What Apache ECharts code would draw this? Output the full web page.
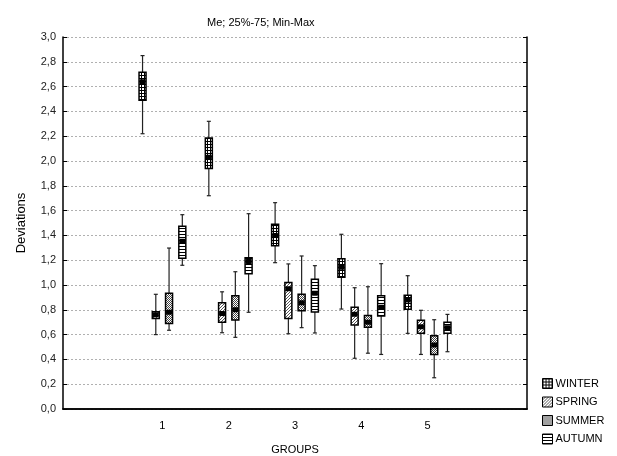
<!DOCTYPE html>
<html>
<head>
<meta charset="utf-8">
<script src="https://cdn.jsdelivr.net/npm/echarts@6/dist/echarts.min.js"></script>
<style>html,body{margin:0;padding:0;background:#fff;}#c{width:617px;height:456px;}</style>
</head>
<body>
<div id="c"></div>
<script>
// Categories (slot 0 and 6 are empty padding slots on the axis)
var xCats = ['', '1', '2', '3', '4', '5', ''];
var groups = ['1', '2', '3', '4', '5'];
var seasons = ['WINTER', 'SPRING', 'SUMMER', 'AUTUMN'];
var yTicks = [0, 0.2, 0.4, 0.6, 0.8, 1.0, 1.2, 1.4, 1.6, 1.8, 2.0, 2.2, 2.4, 2.6, 2.8, 3.0];

// [min, q25, median, q75, max] per group
var winter = [
  [2.22, 2.49, 2.64, 2.715, 2.85],
  [1.72, 1.94, 2.03, 2.185, 2.32],
  [1.18, 1.317, 1.40, 1.49, 1.664],
  [0.806, 1.062, 1.143, 1.212, 1.409],
  [0.61, 0.804, 0.88, 0.917, 1.075]
];
var spring = [
  [0.60, 0.73, 0.76, 0.785, 0.925],
  [0.615, 0.70, 0.77, 0.857, 0.945],
  [0.607, 0.73, 0.97, 1.02, 1.17],
  [0.409, 0.677, 0.764, 0.82, 0.978],
  [0.44, 0.61, 0.664, 0.715, 0.796]
];
var summer = [
  [0.635, 0.69, 0.78, 0.933, 1.298],
  [0.578, 0.718, 0.80, 0.914, 1.107],
  [0.656, 0.793, 0.857, 0.925, 1.234],
  [0.45, 0.659, 0.70, 0.755, 0.986],
  [0.252, 0.44, 0.516, 0.59, 0.72]
];
var autumn = [
  [1.159, 1.215, 1.352, 1.473, 1.567],
  [0.78, 1.09, 1.19, 1.22, 1.575],
  [0.613, 0.782, 0.933, 1.046, 1.156],
  [0.44, 0.75, 0.82, 0.914, 1.172],
  [0.462, 0.61, 0.656, 0.70, 0.763]
];
var seasonData = [winter, spring, summer, autumn];
var offsets = [-0.3, -0.1, 0.1, 0.3];

function makePattern(kind) {
  var c = document.createElement('canvas');
  var ctx;
  if (kind === 'grid') {
    c.width = 3; c.height = 3; ctx = c.getContext('2d');
    ctx.fillStyle = '#fff'; ctx.fillRect(0, 0, 3, 3);
    ctx.fillStyle = '#000'; ctx.fillRect(0, 0, 3, 1); ctx.fillRect(0, 0, 1, 3);
  } else if (kind === 'diag') {
    c.width = 3; c.height = 3; ctx = c.getContext('2d');
    ctx.fillStyle = '#fff'; ctx.fillRect(0, 0, 3, 3);
    ctx.fillStyle = '#555'; ctx.fillRect(0, 2, 1, 1); ctx.fillRect(1, 1, 1, 1); ctx.fillRect(2, 0, 1, 1);
  } else if (kind === 'dots') {
    c.width = 2; c.height = 2; ctx = c.getContext('2d');
    ctx.fillStyle = '#fff'; ctx.fillRect(0, 0, 2, 2);
    ctx.fillStyle = '#444'; ctx.fillRect(0, 0, 1, 1); ctx.fillRect(1, 1, 1, 1);
  } else {
    c.width = 3; c.height = 3; ctx = c.getContext('2d');
    ctx.fillStyle = '#fff'; ctx.fillRect(0, 0, 3, 3);
    ctx.fillStyle = '#000'; ctx.fillRect(0, 0, 3, 1);
  }
  return { image: c, repeat: 'repeat' };
}
var patterns = [makePattern('grid'), makePattern('diag'), makePattern('dots'), makePattern('hlines')];

function fmt(v) { return v.toFixed(1).replace('.', ','); }

function buildSeries(si) {
  var data = seasonData[si].map(function (d, gi) {
    return [gi + 1].concat(d);
  });
  var off = offsets[si];
  var fill = patterns[si];
  return {
    name: seasons[si],
    type: 'custom',
    itemStyle: { color: fill, borderColor: '#000', borderWidth: 1 },
    encode: { x: 0, y: [1, 2, 3, 4, 5] },
    data: data,
    renderItem: function (params, api) {
      var band = api.size([1, 0])[0];
      var idx = api.value(0);
      var x = api.coord([idx, 0])[0] + off * band;
      var yMin = api.coord([idx, api.value(1)])[1];
      var yQ1 = api.coord([idx, api.value(2)])[1];
      var yMed = api.coord([idx, api.value(3)])[1];
      var yQ3 = api.coord([idx, api.value(4)])[1];
      var yMax = api.coord([idx, api.value(5)])[1];
      var lineStyle = { stroke: '#222', lineWidth: 1.2 };
      var bw = 7, cw = 4;
      return {
        type: 'group',
        children: [
          { type: 'line', shape: { x1: x, y1: yMax, x2: x, y2: yQ3 }, style: lineStyle },
          { type: 'line', shape: { x1: x, y1: yQ1, x2: x, y2: yMin }, style: lineStyle },
          { type: 'line', shape: { x1: x - cw / 2, y1: yMax, x2: x + cw / 2, y2: yMax }, style: lineStyle },
          { type: 'line', shape: { x1: x - cw / 2, y1: yMin, x2: x + cw / 2, y2: yMin }, style: lineStyle },
          { type: 'rect', shape: { x: x - bw / 2, y: yQ3, width: bw, height: yQ1 - yQ3 },
            style: { fill: fill, stroke: '#000', lineWidth: 1.5 } },
          { type: 'rect', shape: { x: x - 3, y: yMed - 2.5, width: 6, height: 5, r: 1 },
            style: { fill: '#000' } }
        ]
      };
    }
  };
}

var chart = echarts.init(document.getElementById('c'), null, { renderer: 'canvas' });
chart.setOption({
  backgroundColor: '#fff',
  animation: false,
  title: {
    text: 'Me; 25%-75; Min-Max',
    left: 202, top: 12,
    textStyle: { fontSize: 11, fontWeight: 'normal', color: '#000', fontFamily: 'Liberation Sans, Arial, sans-serif' }
  },
  legend: {
    orient: 'vertical',
    left: 537, top: 373,
    itemWidth: 10, itemHeight: 10, itemGap: 7.5,
    icon: 'rect',
    itemStyle: { borderColor: '#000', borderWidth: 1 },
    textStyle: { fontSize: 11, color: '#000', padding: [0, 0, 0, -2], fontFamily: 'Liberation Sans, Arial, sans-serif' },
    data: seasons
  },
  grid: { left: 63, right: 90, top: 37, bottom: 47, containLabel: false, outerBoundsMode: 'none' },
  xAxis: [{
    type: 'category',
    data: xCats,
    boundaryGap: true,
    name: 'GROUPS',
    nameLocation: 'middle',
    nameGap: 35,
    nameTextStyle: { fontSize: 11, color: '#000', fontFamily: 'Liberation Sans, Arial, sans-serif' },
    axisLine: { lineStyle: { color: '#000', width: 1.5 } },
    axisTick: { inside: true, length: 4, alignWithLabel: true, interval: 0, lineStyle: { color: '#000' } },
    axisLabel: { interval: 0, margin: 11, fontSize: 11, color: '#000', fontFamily: 'Liberation Sans, Arial, sans-serif' },
    splitLine: { show: false }
  }, {
    type: 'category',
    data: xCats,
    position: 'top',
    boundaryGap: true,
    axisLine: { lineStyle: { color: '#000', width: 1.5 } },
    axisTick: { inside: true, length: 4, alignWithLabel: true, interval: 0, lineStyle: { color: '#000' } },
    axisLabel: { show: false },
    splitLine: { show: false }
  }],
  yAxis: [{
    type: 'value',
    min: 0, max: 3, interval: 0.2,
    name: 'Deviations',
    nameLocation: 'middle',
    nameGap: 35,
    nameRotate: 90,
    nameTextStyle: { fontSize: 13, color: '#000', fontFamily: 'Liberation Sans, Arial, sans-serif' },
    axisLine: { show: true, lineStyle: { color: '#000', width: 1.5 } },
    axisTick: { show: true, inside: true, length: 4, lineStyle: { color: '#000' } },
    axisLabel: { margin: 7, fontSize: 11, color: '#222', formatter: function (v) { return fmt(v); }, fontFamily: 'Liberation Sans, Arial, sans-serif' },
    splitLine: { show: true, lineStyle: { color: '#b0b0b0', type: [2, 2], width: 1 } }
  }, {
    type: 'value',
    position: 'right',
    min: 0, max: 3, interval: 0.2,
    axisLine: { show: true, lineStyle: { color: '#000', width: 1.5 } },
    axisTick: { show: true, inside: true, length: 4, lineStyle: { color: '#000' } },
    axisLabel: { show: false },
    splitLine: { show: false }
  }],
  series: [0, 1, 2, 3].map(buildSeries)
});
</script>
</body>
</html>
